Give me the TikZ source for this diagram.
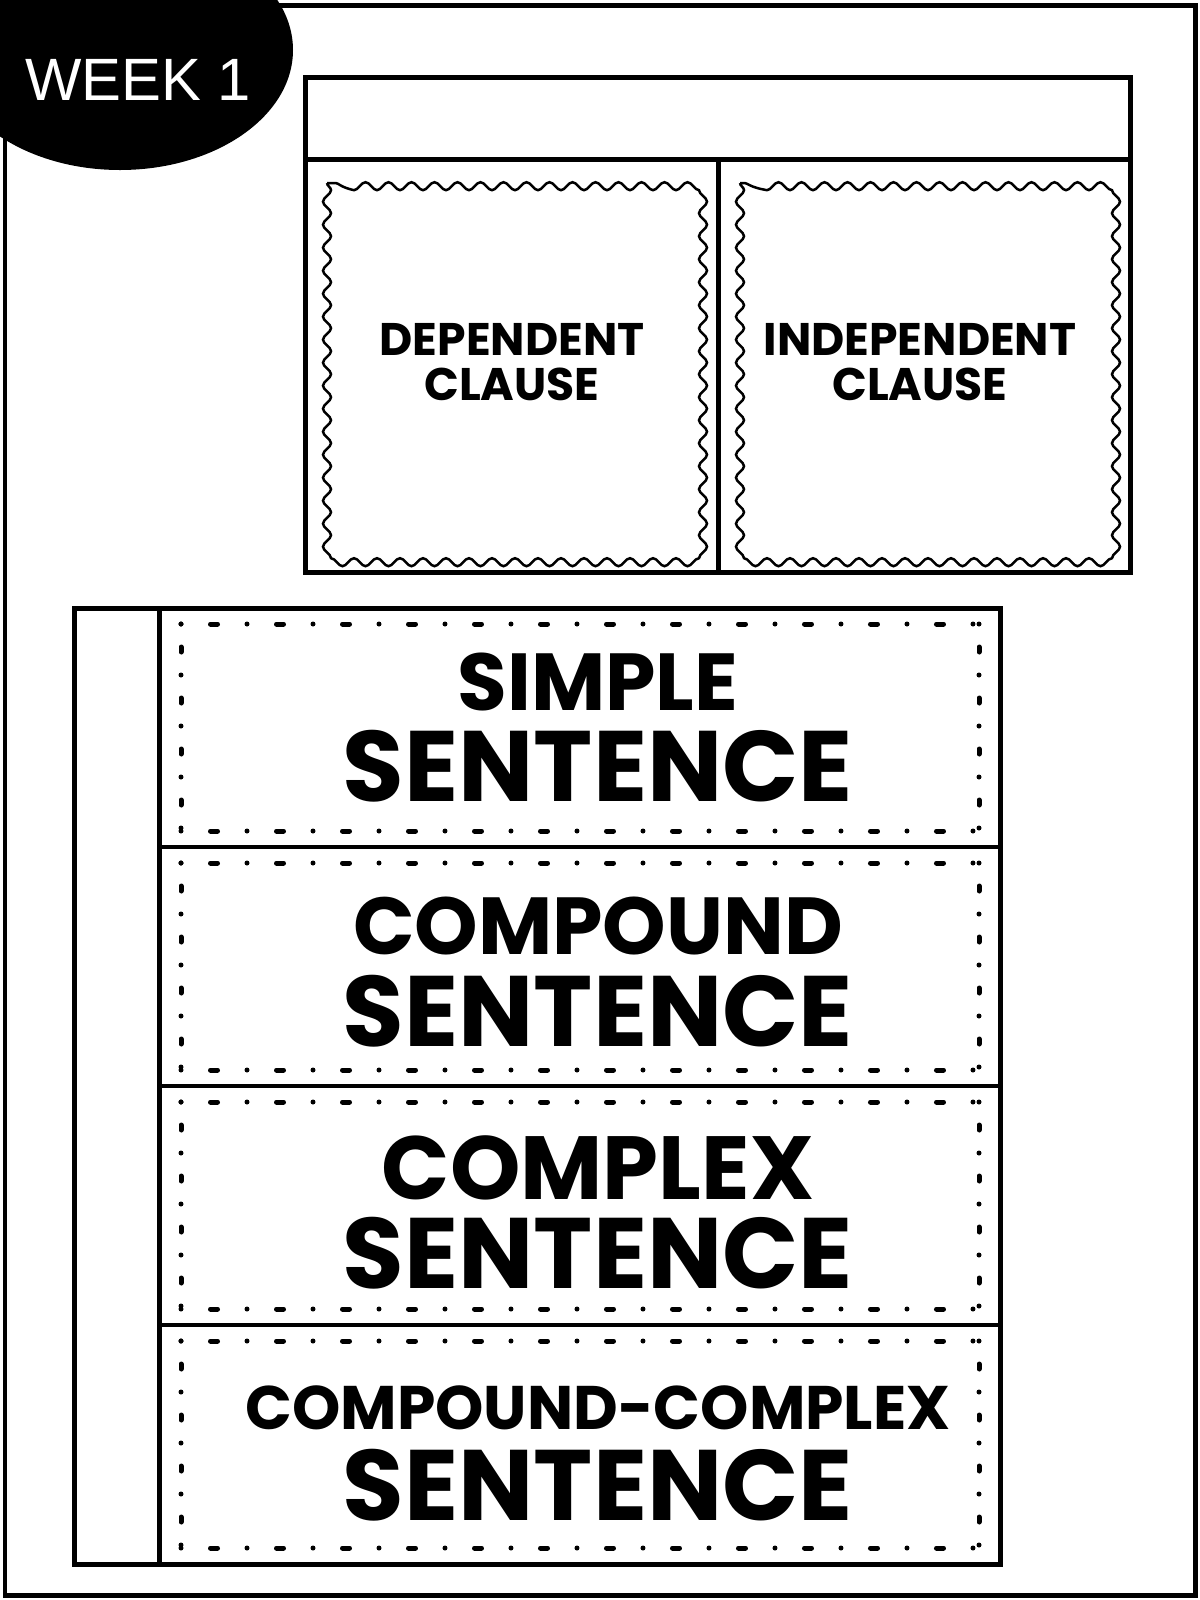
\documentclass[tikz,border=0pt]{standalone}
\usepackage{fontspec}
\setmainfont{Poppins}
\newfontfamily\weekfont{Liberation Sans}
\usetikzlibrary{decorations.pathmorphing,positioning}

\begin{document}
\begin{tikzpicture}[x=0.1mm,y=-0.1mm,
  frame/.style={draw,line width=0.5mm},
  panel/.style={draw,line width=0.35mm},
  wavy/.style={draw,line width=0.25mm,decorate,
    decoration={snake,segment length=2.3mm,amplitude=0.4mm}},
  dotrow/.style={line width=0.5mm,line cap=round,
    dash pattern=on 0pt off 2.95mm on 0.7mm off 2.95mm},
  dotcol/.style={line width=0.5mm,line cap=round,
    dash pattern=on 0pt off 2.3mm on 0.5mm off 2.3mm},
  label/.style={font=\fontsize{13}{15}\selectfont\bfseries,align=center,inner sep=0pt},
  bigword/.style={font=\fontsize{28.5}{30}\selectfont\bfseries,inner sep=0pt,anchor=base}]

  \useasboundingbox (0,0) rectangle (1200,1600);

  % ---- week badge ----
  \begin{scope}
    \clip (0,0) rectangle (1200,1600);
    \fill[black] (120,50) ellipse [x radius=173, y radius=120];
  \end{scope}
  \node[text=white,inner sep=0pt,anchor=base,font=\weekfont\fontsize{17}{18}\selectfont] (week) at (138,100) {WEEK 1};

  % ---- page frame ----
  \draw[line width=0.5mm] (5,5) rectangle (1195,1595);

  % ---- clause flaps (top) ----
  \draw[frame] (305,77) rectangle (1130,572);
  \draw[frame] (305,159) -- (1130,159);
  \draw[frame] (718,159) -- (718,572);
  \draw[wavy] (327,183) rectangle (697,549);
  \draw[wavy] (740,183) rectangle (1108,549);
  \node[label] (dep) at (512,362) {DEPENDENT\\[-2pt]CLAUSE};
  \node[label] (indep) at (920,362) {INDEPENDENT\\[-2pt]CLAUSE};

  % ---- sentence flaps (bottom) ----
  \draw[frame] (74,608) rectangle (1000,1564);
  \draw[frame] (159,608) -- (159,1564);
  \foreach \i/\word/\fs/\ya/\yb in {0/SIMPLE/23/102/193,
                                   1/COMPOUND/23/107/199,
                                   2/COMPLEX/25.5/113/202,
                                   3/COMPOUND-COMPLEX/17.5/104/195}{
    \pgfmathsetmacro{\top}{608+239*\i}
    \pgfmathsetmacro{\bot}{\top+239}
    \ifnum\i>0 \draw[panel] (159,\top) -- (1000,\top); \fi
    % dotted cut line
    \draw[dotrow] (181,\top+16) -- (979,\top+16);
    \draw[dotrow] (181,\bot-16) -- (979,\bot-16);
    \draw[dotcol] (181,\top+16) -- (181,\bot-16);
    \draw[dotcol] (979,\top+16) -- (979,\bot-16);
    \node[bigword,font=\fontsize{\fs}{\fs}\selectfont\bfseries] (kind\i) at (598,\top+\ya) {\word};
    \node[bigword] (sent\i) at (598,\top+\yb) {SENTENCE};
  }
\end{tikzpicture}
\end{document}
